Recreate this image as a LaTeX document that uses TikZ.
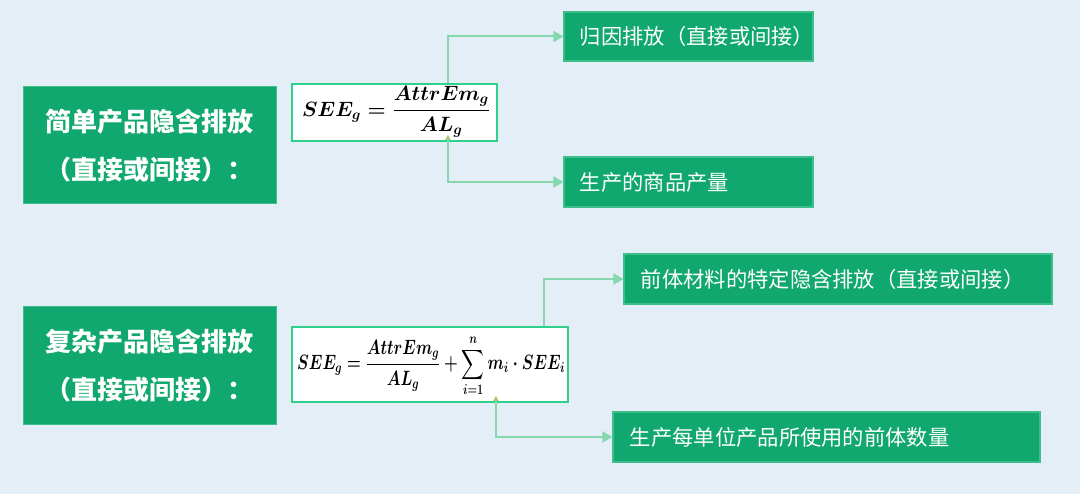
\documentclass[tikz,border=0pt]{standalone}
\usepackage{amsmath}
\usepackage{fontspec}
\usepackage{graphicx}
\newfontfamily\cjk{Noto Sans CJK SC}
\usetikzlibrary{arrows.meta,calc}
\definecolor{bgc}{HTML}{E4EEF7}
\definecolor{boxg}{HTML}{10A86F}
\definecolor{boxedge}{HTML}{3DBE8A}
\definecolor{fedge}{HTML}{2FD08C}
\definecolor{linec}{HTML}{86D6AE}
\definecolor{tipc}{HTML}{9CCB70}
\definecolor{mathblue}{HTML}{1D4D96}
\newsavebox\boxfa
\newsavebox\boxfb
\tikzset{
  x=1pt,y=-1pt,
  leftbox/.style={draw=boxedge,fill=boxg,line width=1pt,inner sep=0pt,text=white,align=center,
    font=\cjk\bfseries\fontsize{26}{48}\selectfont},
  rightbox/.style={draw=boxedge,fill=boxg,line width=1.2pt,inner sep=0pt},
  rtext/.style={anchor=west,text=white,font=\cjk\fontsize{21.3}{25}\selectfont},
  fbox/.style={draw=fedge,fill=white,line width=1.8pt,inner sep=0pt},
  conn/.style={draw=linec,line width=2pt,-{Triangle[length=10pt,width=11pt,color=linec]}},
  conn2/.style={draw=linec,line width=2pt,{Triangle[length=5pt,width=5pt,color=tipc]}-{Triangle[length=10pt,width=11pt,color=linec]},shorten <=-7pt},
  mtext/.style={text=mathblue,inner sep=0pt},
}
\begin{document}
\sbox\boxfa{\fontsize{20.5}{24}\selectfont\boldmath\(\displaystyle SEE_g=\frac{AttrEm_g}{AL_g}\)}%
\sbox\boxfb{\fontsize{20}{24}\selectfont\boldmath\scalebox{0.76}[1]{\(\displaystyle SEE_g=\frac{AttrEm_g}{AL_g}+\sum_{i=1}^{n}m_i\cdot SEE_i\)}}%
\begin{tikzpicture}
\fill[bgc] (0,0) rectangle (1080,494);
\useasboundingbox (0,0) rectangle (1080,494);

% left boxes
\node[leftbox,minimum width=253pt,minimum height=117pt] (L1) at (149.5,145.5)
  {简单产品隐含排放\\（直接或间接）：};
\node[leftbox,minimum width=253pt,minimum height=118pt] (L2) at (149.5,366)
  {复杂产品隐含排放\\（直接或间接）：};

% right boxes
\node[rightbox,minimum width=249pt,minimum height=49pt] (R1) at (688.5,36.5) {};
\node[rightbox,minimum width=249pt,minimum height=50pt] (R2) at (688.5,182) {};
\node[rightbox,minimum width=428pt,minimum height=50pt] (R3) at (838,279) {};
\node[rightbox,minimum width=427pt,minimum height=50pt] (R4) at (826.5,437) {};
\node[rtext] (t1) at ([xshift=13pt]R1.west) {归因排放（直接或间接）};
\node[rtext] (t2) at ([xshift=13pt]R2.west) {生产的商品产量};
\node[rtext] (t3) at ([xshift=14pt]R3.west) {前体材料的特定隐含排放（直接或间接）};
\node[rtext] (t4) at ([xshift=14pt]R4.west) {生产每单位产品所使用的前体数量};

% formula boxes
\node[fbox,minimum width=205pt,minimum height=57pt] (F1) at (394.5,112.5) {};
\node[fbox,minimum width=276pt,minimum height=75pt] (F2) at (430,364.5) {};

\draw[conn] ([xshift=-50pt]F1.north east) |- (R1.west);
\draw[conn2] ([xshift=-50pt]F1.south east) |- (R2.west);
\draw[conn] ([xshift=-25pt]F2.north east) |- (R3.west);
\draw[conn2] ([xshift=-73pt]F2.south east) |- (R4.west);

\node[mtext] (m1) at (396,112) {\textcolor{mathblue}{\usebox\boxfa}};
\node[mtext] (m2) at (431,366) {\textcolor{mathblue}{\usebox\boxfb}};
\end{tikzpicture}
\end{document}
